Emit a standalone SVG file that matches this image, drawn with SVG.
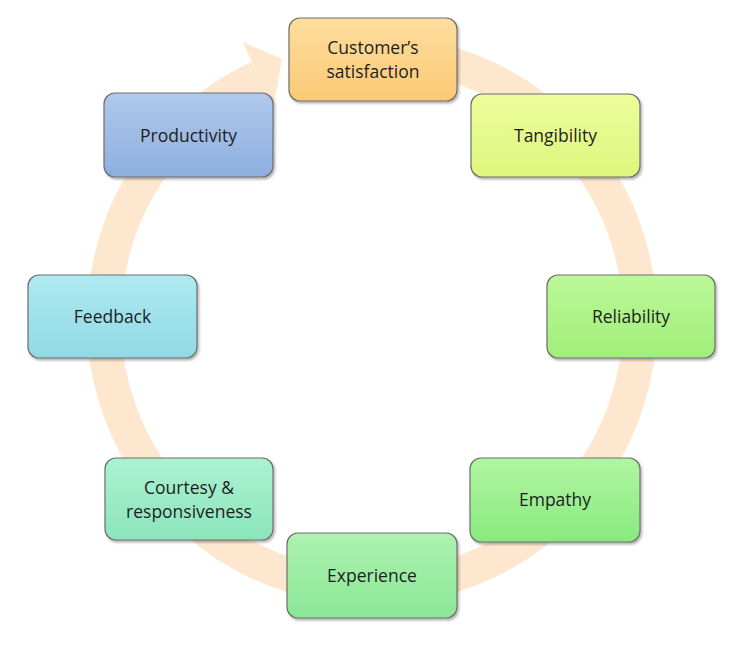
<svg xmlns="http://www.w3.org/2000/svg" width="746" height="645" viewBox="0 0 746 645">
<defs>
<linearGradient id="gCust" x1="0" y1="0" x2="0" y2="1"><stop offset="0" stop-color="#fedd9e"/><stop offset="1" stop-color="#fbca76"/></linearGradient>
<linearGradient id="gTang" x1="0" y1="0" x2="0" y2="1"><stop offset="0" stop-color="#eefd9c"/><stop offset="1" stop-color="#ddf67c"/></linearGradient>
<linearGradient id="gProd" x1="0" y1="0" x2="0" y2="1"><stop offset="0" stop-color="#b0c9ec"/><stop offset="1" stop-color="#8daede"/></linearGradient>
<linearGradient id="gFeed" x1="0" y1="0" x2="0" y2="1"><stop offset="0" stop-color="#aeeaf0"/><stop offset="1" stop-color="#90d9e5"/></linearGradient>
<linearGradient id="gRel" x1="0" y1="0" x2="0" y2="1"><stop offset="0" stop-color="#bcf898"/><stop offset="1" stop-color="#a0ef7a"/></linearGradient>
<linearGradient id="gEmp" x1="0" y1="0" x2="0" y2="1"><stop offset="0" stop-color="#b0f6a2"/><stop offset="1" stop-color="#88ea7e"/></linearGradient>
<linearGradient id="gExp" x1="0" y1="0" x2="0" y2="1"><stop offset="0" stop-color="#aef2b0"/><stop offset="1" stop-color="#8be796"/></linearGradient>
<linearGradient id="gCour" x1="0" y1="0" x2="0" y2="1"><stop offset="0" stop-color="#acf2d2"/><stop offset="1" stop-color="#8be5bb"/></linearGradient>
<filter id="sh" x="-10%" y="-10%" width="125%" height="130%">
<feDropShadow dx="1.5" dy="2" stdDeviation="1.2" flood-color="#000" flood-opacity="0.3"/>
</filter>
</defs>
<style>
.node rect{stroke:#6e6e6e;stroke-width:1.2;filter:url(#sh)}
.node text{font-family:"Open Sans","Liberation Sans",sans-serif;font-size:17.5px;fill:#1e1e1e;text-anchor:middle}
.ring{fill:none;stroke:#fee7cf;stroke-width:34}
.head{fill:#fee7cf}
</style>
<g id="connectors">
<path class="ring" d="M 348.6 53 A 268 268 0 1 1 258.7 77.1"/>
<polygon class="head" points="243,42 282,59 273,109"/>
</g>
<g id="customer" class="node">
<rect x="289" y="18" width="168" height="83" rx="11" fill="url(#gCust)"/>
<text x="373" y="54">Customer’s</text>
<text x="373" y="78">satisfaction</text>
</g>
<g id="tangibility" class="node">
<rect x="471" y="94" width="169" height="83" rx="11" fill="url(#gTang)"/>
<text x="555.5" y="141.5">Tangibility</text>
</g>
<g id="productivity" class="node">
<rect x="104" y="93" width="169" height="84" rx="11" fill="url(#gProd)"/>
<text x="188.5" y="141.5">Productivity</text>
</g>
<g id="feedback" class="node">
<rect x="28" y="275" width="169" height="83" rx="11" fill="url(#gFeed)"/>
<text x="112.5" y="323">Feedback</text>
</g>
<g id="reliability" class="node">
<rect x="547" y="275" width="168" height="83" rx="11" fill="url(#gRel)"/>
<text x="631" y="323">Reliability</text>
</g>
<g id="courtesy" class="node">
<rect x="105" y="458" width="168" height="82" rx="11" fill="url(#gCour)"/>
<text x="189" y="494">Courtesy &amp;</text>
<text x="189" y="518">responsiveness</text>
</g>
<g id="empathy" class="node">
<rect x="470" y="458" width="170" height="84" rx="11" fill="url(#gEmp)"/>
<text x="555" y="506">Empathy</text>
</g>
<g id="experience" class="node">
<rect x="287" y="533" width="170" height="85" rx="11" fill="url(#gExp)"/>
<text x="372" y="581.5">Experience</text>
</g>
</svg>
